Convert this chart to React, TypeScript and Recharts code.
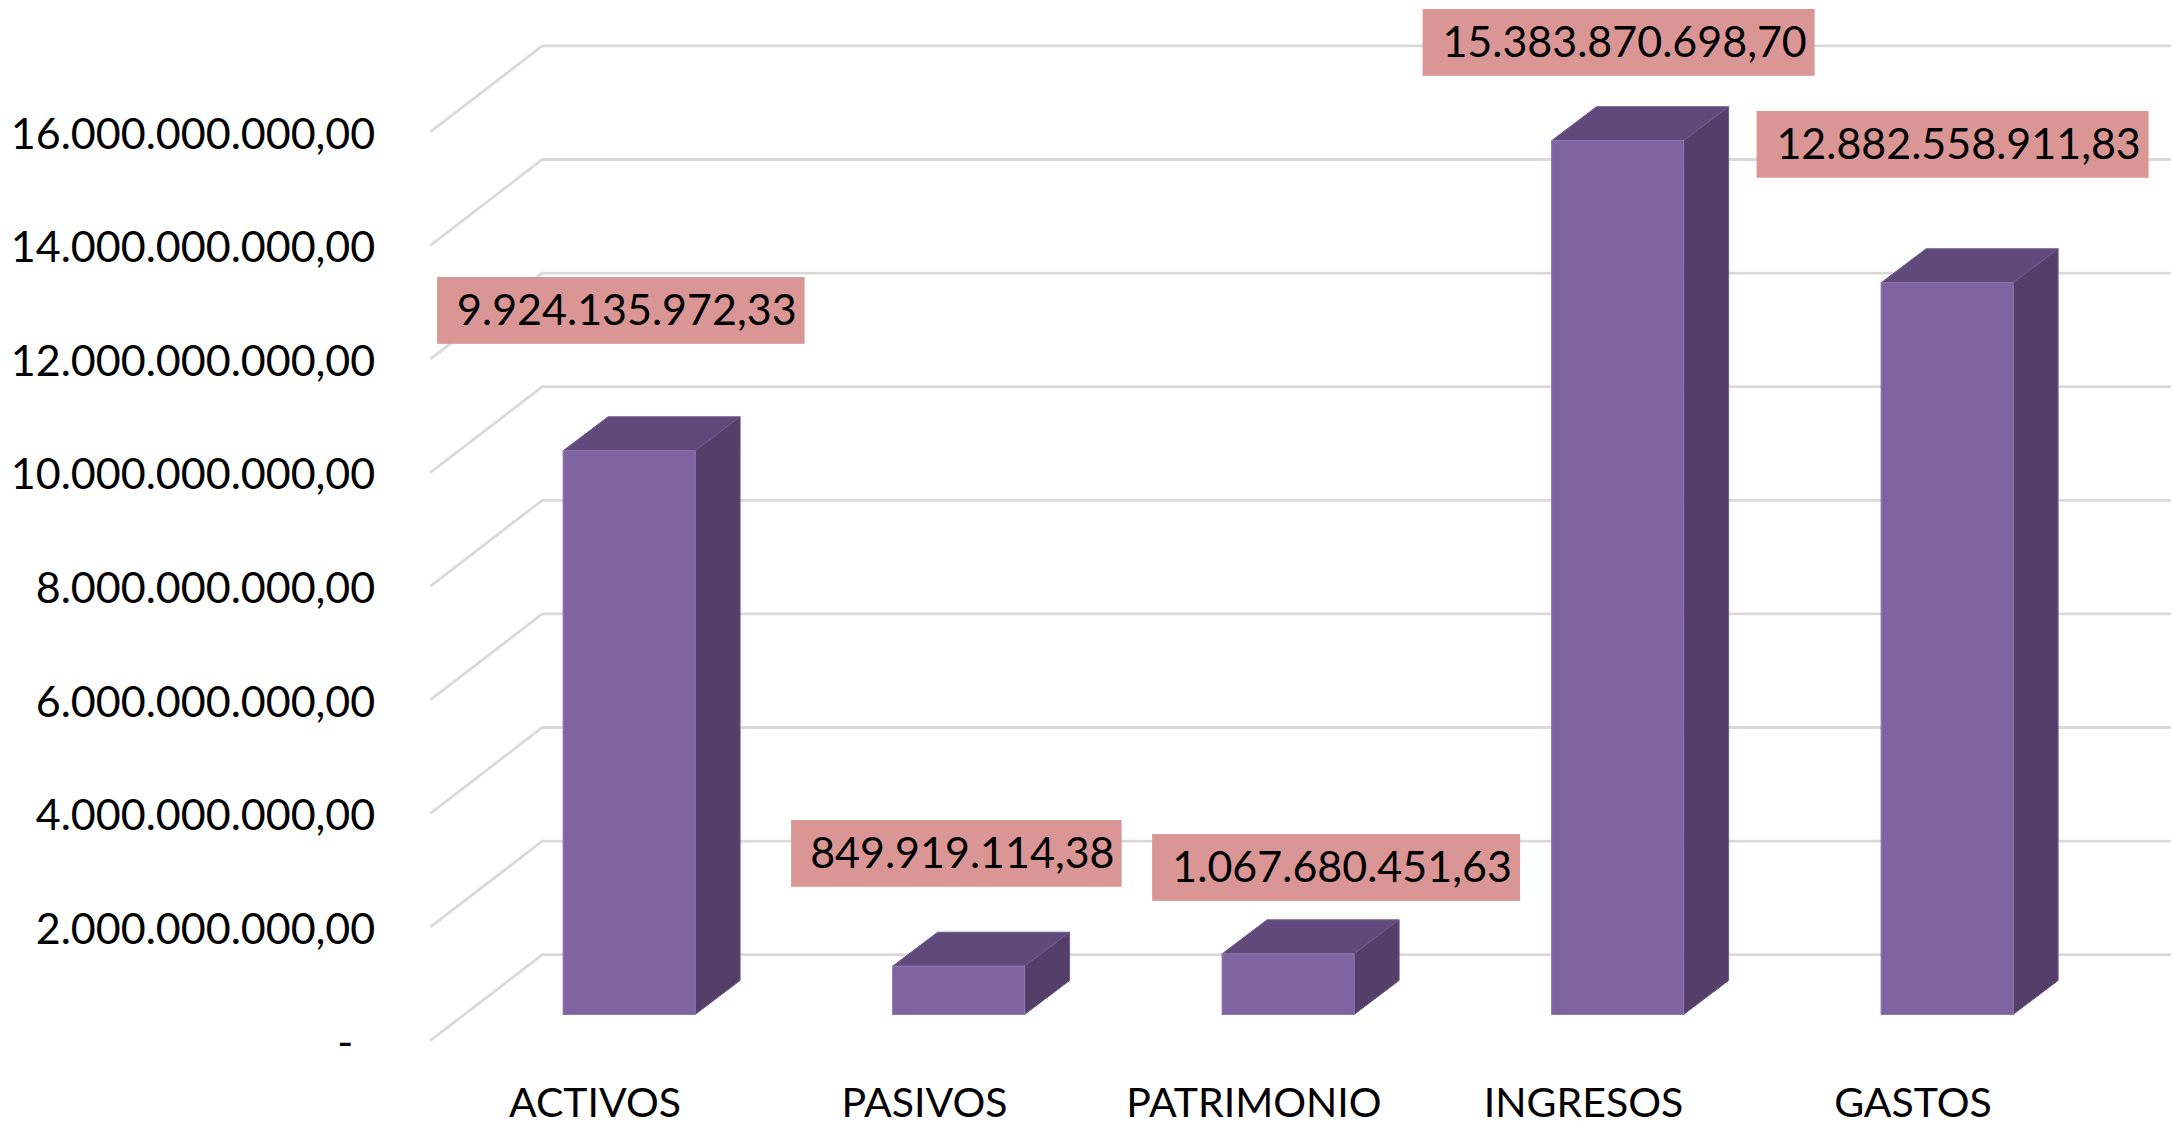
import { Bar, BarChart, CartesianGrid, LabelList, XAxis, YAxis } from "recharts"

const categories = ["ACTIVOS", "PASIVOS", "PATRIMONIO", "INGRESOS", "GASTOS"]
const values = [9924135972.33, 849919114.38, 1067680451.63, 15383870698.7, 12882558911.83]
const yTicks = [0, 2e9, 4e9, 6e9, 8e9, 1e10, 1.2e10, 1.4e10, 1.6e10]

const data = categories.map((name, i) => ({ name, value: values[i] }))

// hand placed label boxes in the original, relative to the top centre of each bar
const labelDx = [25.75, 31.75, 82, 35, 39.5]
const labelDy = [-200, -172.4, -146, -157.9, -198]
const labelW = [367.5, 330.5, 368, 392, 392]
const labelH = 66.8

const FONT = "Lato"
const NUMBER_SIZE = 43
const CATEGORY_SIZE = 41

// depth of the fake 3d
const wallDx = 112
const wallDy = 86
const barOffsetX = 34
const barOffsetY = 26.2
const barDepthX = 45
const barDepthY = 34

const money = (v: number) =>
  v.toLocaleString("de-DE", { minimumFractionDigits: 2, maximumFractionDigits: 2 })

function GridLine(props: any) {
  const { x1, x2, y1 } = props
  return (
    <path
      d={`M${x1},${y1} L${x1 + wallDx},${y1 - wallDy} L${x2 + wallDx},${y1 - wallDy}`}
      fill="none"
      stroke="#D9D9D9"
      strokeWidth={2.8}
    />
  )
}

function Prism(props: any) {
  const { x, y, width, height } = props
  const l = x + barOffsetX
  const r = l + width
  const t = y - barOffsetY
  const b = t + height
  const edge = "#9078AE"
  return (
    <g>
      <path
        d={`M${l},${t} L${l + barDepthX},${t - barDepthY} L${r + barDepthX},${t - barDepthY} L${r},${t} Z`}
        fill="#604A7B"
        stroke="#6F5A8C"
        strokeWidth={1}
      />
      <path
        d={`M${r},${t} L${r + barDepthX},${t - barDepthY} L${r + barDepthX},${b - barDepthY} L${r},${b} Z`}
        fill="#533F69"
        stroke="#6F5A8C"
        strokeWidth={1}
      />
      <rect x={l} y={t} width={width} height={height} fill="#8064A2" stroke={edge} strokeWidth={1} />
    </g>
  )
}

function BoxLabel(props: any) {
  const { x, y, width, value, index } = props
  const cx = x + width / 2 + labelDx[index]
  const top = y + labelDy[index]
  const w = labelW[index]
  return (
    <g>
      <rect x={cx - w / 2} y={top} width={w} height={labelH} fill="#D99694" />
      <text
        x={cx + 6}
        y={top + labelH / 2 + 15}
        textAnchor="middle"
        fontFamily={FONT}
        fontSize={NUMBER_SIZE}
        fill="#000"
      >
        {money(value)}
      </text>
    </g>
  )
}

export default function App() {
  return (
    <div style={{ position: "absolute", left: 0, top: 0, width: 2171, height: 1122, background: "#fff" }}>
      <BarChart
        width={2171}
        height={1122}
        data={data}
        barCategoryGap="30%"
        margin={{ top: 131.9, right: 93.25, bottom: 0, left: 0 }}
      >
        <CartesianGrid vertical={false} horizontal={(p: any) => <GridLine key={p.key} {...p} />} />
        <XAxis
          dataKey="name"
          height={81.3}
          axisLine={false}
          tickLine={false}
          interval={0}
          tickMargin={41.5}
          tick={{ fill: "#000", fontSize: CATEGORY_SIZE, fontFamily: FONT }}
        />
        <YAxis
          width={430.25}
          domain={[0, 1.6e10]}
          ticks={yTicks}
          interval={0}
          axisLine={false}
          tickLine={false}
          tickMargin={49}
          tick={{ fill: "#000", fontSize: NUMBER_SIZE, fontFamily: FONT, dy: 1.5 }}
          tickFormatter={(v: number) => (v === 0 ? "-\u00a0\u00a0" : money(v))}
        />
        <Bar dataKey="value" shape={Prism} isAnimationActive={false}>
          <LabelList dataKey="value" content={BoxLabel} />
        </Bar>
      </BarChart>
    </div>
  )
}
